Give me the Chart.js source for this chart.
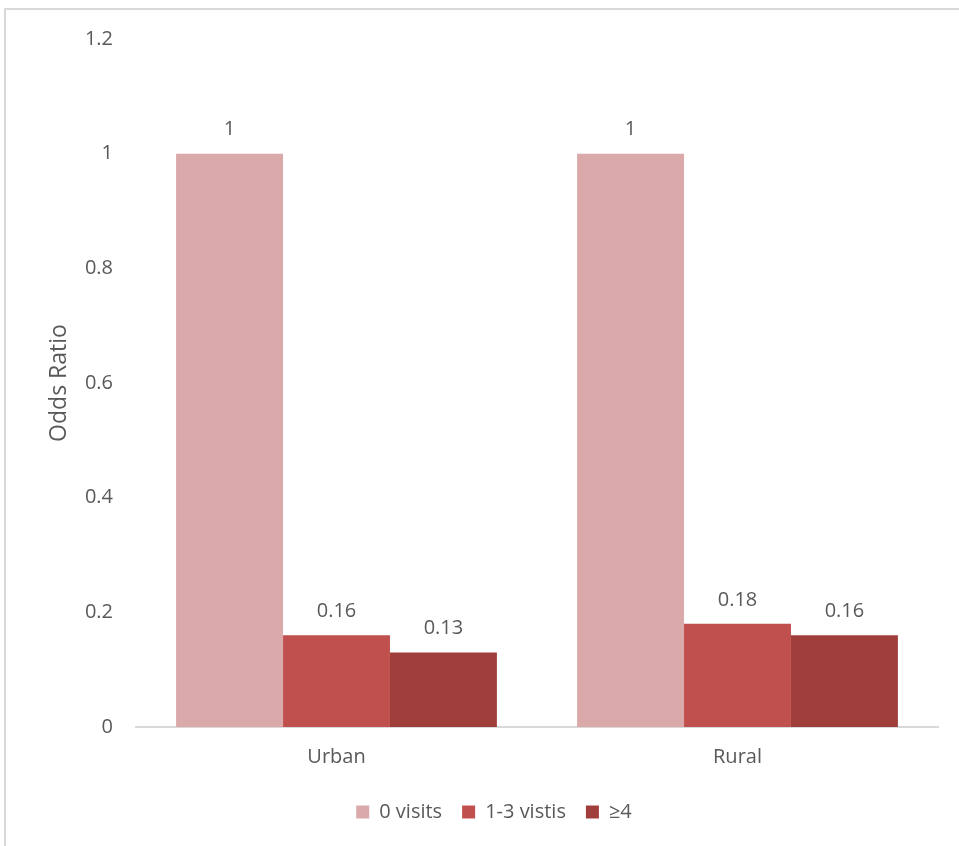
<!DOCTYPE html>
<html>
<head>
<meta charset="utf-8">
<script src="https://cdn.jsdelivr.net/npm/chart.js@4.4.1/dist/chart.umd.min.js"></script>
<style>
  html, body { margin: 0; padding: 0; background: #fff; overflow: hidden; }
  #wrap { position: relative; width: 959px; height: 846px; overflow: hidden; }
  #frame { position: absolute; left: 4px; top: 8px; width: 1000px; height: 900px;
           border-top: 2px solid #d9d9d9; border-left: 2px solid #d9d9d9; }
  canvas { position: absolute; left: 0; top: 0; }
</style>
</head>
<body>
<div id="wrap">
  <div id="frame"></div>
  <canvas id="c" width="959" height="846"></canvas>
</div>
<script>
// Odds ratio by number of visits, urban vs rural
const categories = ['Urban', 'Rural'];
const seriesNames = ['0 visits', '1-3 vistis', '\u22654'];
const zeroVisits = [1, 1];
const oneToThree = [0.16, 0.18];
const fourPlus = [0.13, 0.16];
const yTicks = [0, 0.2, 0.4, 0.6, 0.8, 1, 1.2];

const colors = ['#DAA9AA', '#C0504D', '#A03E3C'];
const textColor = '#595959';
const fontFamily = '"Open Sans", "Noto Sans", sans-serif';

// Value labels above each bar
const valueLabels = {
  id: 'valueLabels',
  afterDatasetsDraw(chart) {
    const ctx = chart.ctx;
    ctx.save();
    ctx.font = '20px ' + fontFamily;
    ctx.fillStyle = textColor;
    ctx.textAlign = 'center';
    ctx.textBaseline = 'middle';
    chart.data.datasets.forEach((ds, i) => {
      chart.getDatasetMeta(i).data.forEach((bar, j) => {
        ctx.fillText(String(ds.data[j]), bar.x, bar.y - 24);
      });
    });
    ctx.restore();
  }
};

// Nudge the legend row a little to the right
const legendShift = {
  id: 'legendShift',
  afterLayout(chart) {
    if (chart.legend) {
      chart.legend.left += 25;
      chart.legend.right += 25;
    }
  }
};

new Chart(document.getElementById('c'), {
  type: 'bar',
  data: {
    labels: categories,
    datasets: [
      { label: seriesNames[0], data: zeroVisits, backgroundColor: colors[0] },
      { label: seriesNames[1], data: oneToThree, backgroundColor: colors[1] },
      { label: seriesNames[2], data: fourPlus, backgroundColor: colors[2] }
    ]
  },
  options: {
    responsive: false,
    animation: false,
    layout: { padding: { left: 0, right: 21, top: 39, bottom: 14 } },
    datasets: { bar: { categoryPercentage: 0.8, barPercentage: 1.0 } },
    plugins: {
      legend: {
        position: 'bottom',
        labels: {
          boxWidth: 13, boxHeight: 13, padding: 20,
          color: textColor,
          font: { family: fontFamily, size: 20 }
        }
      },
      tooltip: { enabled: false }
    },
    scales: {
      x: {
        afterFit(axis) { axis.height = 55; },
        grid: { display: false, drawTicks: false },
        border: { color: '#d9d9d9', width: 2 },
        ticks: { color: textColor, padding: 18, font: { family: fontFamily, size: 20 } }
      },
      y: {
        min: 0, max: 1.2,
        afterBuildTicks(axis) { axis.ticks = yTicks.map(v => ({ value: v })); },
        afterFit(axis) { axis.width = 136; },
        grid: { display: false, drawTicks: false },
        border: { display: false },
        ticks: { color: textColor, padding: 23, font: { family: fontFamily, size: 20 },
                 callback: v => String(v) },
        title: {
          display: true, text: 'Odds Ratio', color: textColor,
          font: { family: fontFamily, size: 23 },
          padding: { top: 46, bottom: 0 }
        }
      }
    }
  },
  plugins: [valueLabels, legendShift]
});
</script>
</body>
</html>
